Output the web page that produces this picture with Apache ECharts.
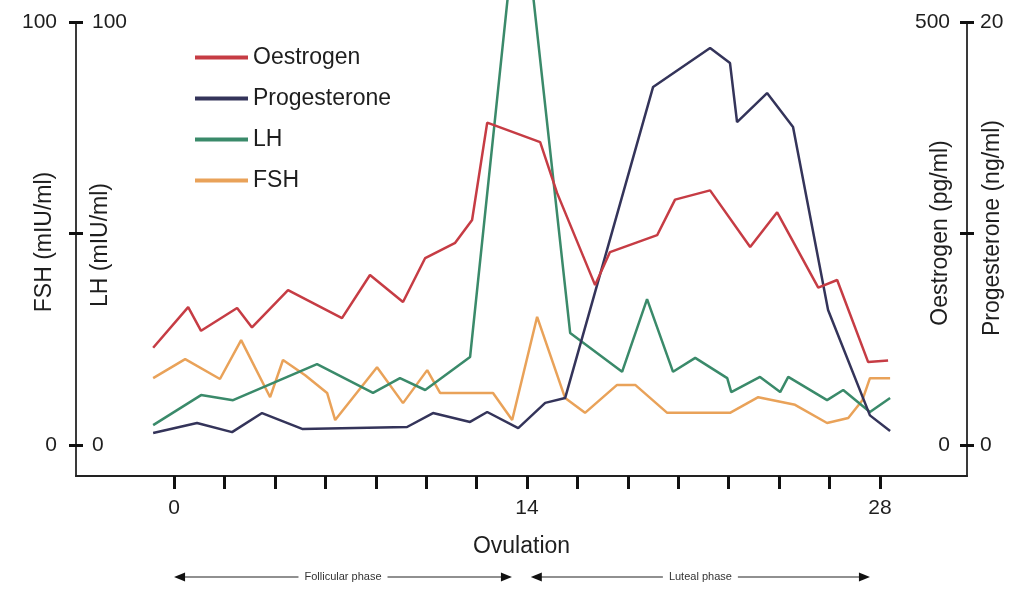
<!DOCTYPE html>
<html>
<head>
<meta charset="utf-8">
<script src="https://cdn.jsdelivr.net/npm/echarts@6/dist/echarts.min.js"></script>
<style>
  html, body { margin: 0; padding: 0; background: #ffffff; }
  #chart { width: 1015px; height: 592px; }
</style>
</head>
<body>
<div id="chart"></div>
<script>
// Day of the cycle (0 = start of menstruation) for each sample, with the hormone levels
const oestrogenDays = [-0.83, 0.56, 1.07, 2.5, 3.09, 4.52, 6.66, 7.77, 9.08, 9.96, 11.15, 11.82, 12.42, 14.52, 15.19, 16.7, 17.29, 19.16, 19.87, 21.26, 22.85, 23.92, 25.55, 26.3, 27.53, 28.32];
const oestrogenValues = [115, 163, 135, 162, 139, 183, 150, 201, 169, 221, 239, 266, 381, 358, 298, 189, 228, 248, 290, 301, 234, 275, 186, 195, 98, 100]; // pg/ml

const progesteroneDays = [-0.83, 0.91, 2.3, 3.49, 5.08, 9.24, 10.27, 11.74, 12.42, 13.65, 14.72, 15.51, 19.0, 21.26, 22.05, 22.33, 23.52, 24.55, 25.94, 27.6, 28.4];
const progesteroneValues = [0.57, 1.04, 0.61, 1.51, 0.76, 0.85, 1.51, 1.09, 1.56, 0.8, 1.99, 2.22, 16.93, 18.77, 18.06, 15.27, 16.64, 15.04, 6.38, 1.4, 0.66]; // ng/ml

const lhDays = [-0.83, 1.07, 2.34, 5.67, 7.89, 8.96, 9.96, 11.74, 13.73, 15.71, 17.77, 18.76, 19.79, 20.67, 21.94, 22.1, 23.24, 24.04, 24.36, 25.9, 26.54, 27.6, 28.4];
const lhValues = [4.7, 11.8, 10.6, 19.1, 12.3, 15.8, 13.0, 20.8, 134, 26.5, 17.3, 34.5, 17.3, 20.6, 15.8, 12.5, 16.1, 12.5, 16.1, 10.6, 13.0, 7.8, 11.1]; // mIU/ml

const fshDays = [-0.83, 0.44, 1.82, 2.66, 3.81, 4.32, 5.2, 6.07, 6.39, 8.05, 9.08, 10.04, 10.55, 12.65, 13.41, 14.4, 15.51, 16.3, 17.57, 18.29, 19.56, 22.05, 23.17, 24.63, 25.9, 26.74, 27.3, 27.6, 28.4];
const fshValues = [15.8, 20.3, 15.6, 24.8, 11.3, 20.1, 16.5, 12.3, 5.9, 18.4, 9.9, 17.7, 12.3, 12.3, 5.9, 30.3, 11.1, 7.6, 14.2, 14.2, 7.6, 7.6, 11.3, 9.5, 5.2, 6.4, 10.6, 15.8, 15.8]; // mIU/ml

// Axis ticks and labels
const dayTicks = [0, 2, 4, 6, 8, 10, 12, 14, 16, 18, 20, 22, 24, 26, 28];
const dayLabels = [0, 14, 28];
const lhFshTop = 100, oestrogenTop = 500, progesteroneTop = 20;

// Phase annotations (start day, end day, label)
const phases = [
  { from: 0, to: 13.4, label: 'Follicular phase' },
  { from: 14.15, to: 27.6, label: 'Luteal phase' }
];

const FONT = 'Liberation Sans, Arial, Helvetica, sans-serif';
const INK = '#1e1e1e';
const COLORS = { oestrogen: '#c63c44', progesterone: '#34345a', lh: '#3a8a6a', fsh: '#e9a259' };

// the vertical axes reach a little below zero, down to the day axis
const floor = 0.0733;
const zip = (xs, ys) => xs.map((x, i) => [x, ys[i]]);

function valueAxis(top, position, inside, labelMargin) {
  return {
    type: 'value',
    position: position,
    min: -top * floor,
    max: top,
    axisLine: { show: true, onZero: false, lineStyle: { color: '#3a3a3a', width: 2 } },
    axisTick: {
      show: true, inside: inside, length: 7,
      customValues: [0, top / 2, top],
      lineStyle: { color: '#111', width: 3 }
    },
    axisLabel: {
      inside: inside, margin: labelMargin,
      customValues: [0, top],
      color: INK, fontSize: 21, fontFamily: FONT
    },
    splitLine: { show: false }
  };
}

function lineSeries(name, data, color, axis) {
  return {
    name: name, type: 'line', yAxisIndex: axis, data: data,
    symbol: 'none', clip: false,
    lineStyle: { color: color, width: 2.5 },
    itemStyle: { color: color }
  };
}

const chart = echarts.init(document.getElementById('chart'), null, { renderer: 'canvas' });

chart.setOption({
  animation: false,
  backgroundColor: '#ffffff',
  textStyle: { fontFamily: FONT },
  grid: { left: 76, right: 48, top: 22, bottom: 116, containLabel: false },
  legend: {
    orient: 'vertical', left: 190, top: 41,
    icon: 'rect', itemWidth: 53, itemHeight: 4, itemGap: 18,
    textStyle: { color: INK, fontSize: 23, fontFamily: FONT },
    data: ['Oestrogen', 'Progesterone', 'LH', 'FSH']
  },
  xAxis: {
    type: 'value',
    min: -3.89, max: 31.45,
    name: 'Ovulation', nameLocation: 'middle', nameGap: 59,
    nameTextStyle: { color: INK, fontSize: 23, fontFamily: FONT },
    axisLine: { show: true, onZero: false, lineStyle: { color: '#222', width: 2 } },
    axisTick: { show: true, length: 13, customValues: dayTicks, lineStyle: { color: '#111', width: 3 } },
    axisLabel: { customValues: dayLabels, margin: 22, color: INK, fontSize: 21, fontFamily: FONT },
    splitLine: { show: false }
  },
  yAxis: [
    valueAxis(lhFshTop, 'left', false, 19),        // FSH
    valueAxis(lhFshTop, 'left', true, 16),         // LH
    valueAxis(oestrogenTop, 'right', true, 17),    // Oestrogen
    valueAxis(progesteroneTop, 'right', false, 13) // Progesterone
  ],
  series: [
    lineSeries('FSH', zip(fshDays, fshValues), COLORS.fsh, 0),
    lineSeries('LH', zip(lhDays, lhValues), COLORS.lh, 1),
    lineSeries('Progesterone', zip(progesteroneDays, progesteroneValues), COLORS.progesterone, 3),
    lineSeries('Oestrogen', zip(oestrogenDays, oestrogenValues), COLORS.oestrogen, 2)
  ]
});

// Rotated axis titles and the phase arrows below the day axis
function axisTitle(text, x, y) {
  return {
    type: 'text', x: x, y: y, rotation: Math.PI / 2, silent: true,
    style: { text: text, fill: INK, font: '23px ' + FONT, align: 'center', verticalAlign: 'middle' }
  };
}

function phaseArrow(phase, y) {
  const x1 = chart.convertToPixel({ xAxisIndex: 0 }, phase.from);
  const x2 = chart.convertToPixel({ xAxisIndex: 0 }, phase.to);
  const head = 11, half = 4.5;
  return [
    { type: 'line', silent: true, shape: { x1: x1 + head - 1, y1: y, x2: x2 - head + 1, y2: y }, style: { stroke: '#222', lineWidth: 1.2 } },
    { type: 'polygon', silent: true, shape: { points: [[x1, y], [x1 + head, y - half], [x1 + head, y + half]] }, style: { fill: '#111' } },
    { type: 'polygon', silent: true, shape: { points: [[x2, y], [x2 - head, y - half], [x2 - head, y + half]] }, style: { fill: '#111' } },
    {
      type: 'text', silent: true, x: (x1 + x2) / 2, y: y,
      style: {
        text: phase.label, fill: '#333', font: '11px ' + FONT,
        align: 'center', verticalAlign: 'middle',
        backgroundColor: '#ffffff', padding: [0, 6]
      }
    }
  ];
}

const graphics = [
  axisTitle('FSH (mIU/ml)', 45, 242),
  axisTitle('LH (mIU/ml)', 101, 245),
  axisTitle('Oestrogen (pg/ml)', 941, 233),
  axisTitle('Progesterone (ng/ml)', 993, 228)
];
phases.forEach(p => graphics.push(...phaseArrow(p, 577)));
chart.setOption({ graphic: graphics });
</script>
</body>
</html>
